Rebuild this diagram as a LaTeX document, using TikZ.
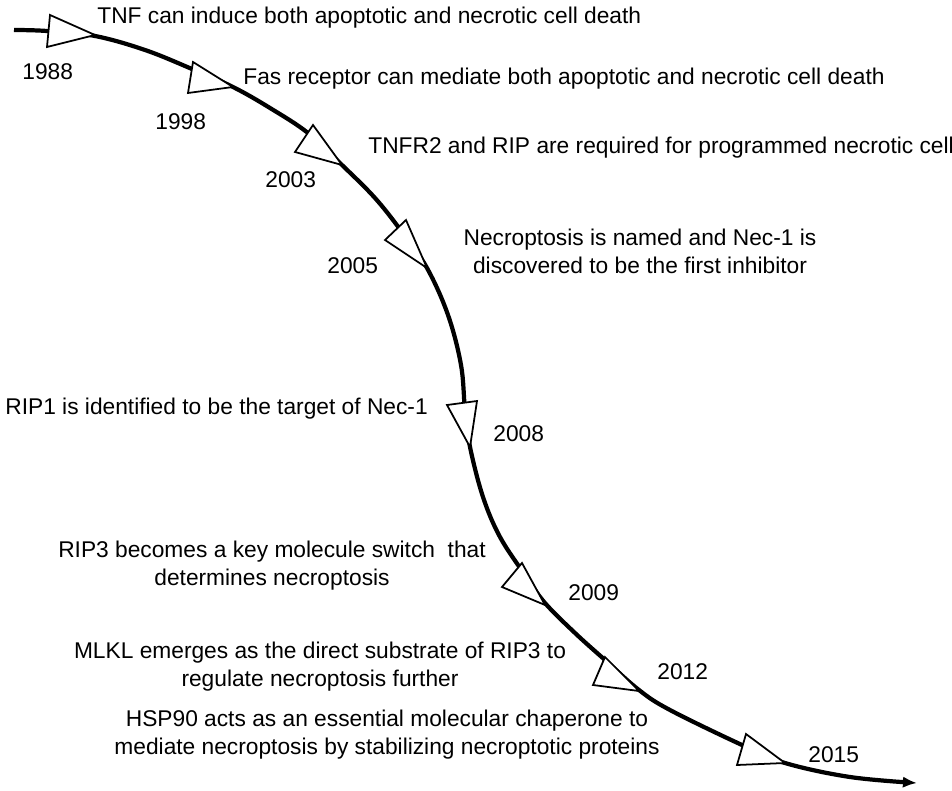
\documentclass[tikz,border=0pt]{standalone}
\usepackage{fontspec}
\setmainfont{Liberation Sans}
\usetikzlibrary{arrows.meta}
\begin{document}
\begin{tikzpicture}
[x=0.02cm,y=-0.02cm,
 timeline/.style={line width=2.4pt},
 marker/.style={line width=1pt,fill=white,line join=miter},
 event/.style={font=\fontsize{12.95}{16}\selectfont,inner sep=0pt},
 year/.style={event,anchor=west}]
\useasboundingbox (0,0) rectangle (952,790);
%% the time line
\draw[timeline,-{Latex[length=8pt,width=6.5pt]}] plot[smooth,tension=0.6] coordinates {
  (14,30) (47,31) (95,36) (145,50) (192,69) (233,87) (270,108) (308,133)
  (342,165) (375,198) (402,232) (427,268) (448,315) (461,365) (465,410)
  (470,447) (483,497) (500,537) (525,575) (545,603) (575,633) (605,660)
  (639,690) (670,710) (742,745) (785,763) (850,777) (917,783)};
%% the open triangles on it
\foreach \ax/\ay/\bx/\by/\tx/\ty in {50/15/47/47/95/35, 193/62/188/93/233/87,
  313/125/295/152/342/165, 406/220/385/240/427/268, 447/405/477/401/470/447,
  522/563/502/587/545/605, 605/657/593/685/639/691, 746/734/737/765/785/763}
{
  \draw[marker] (\ax,\ay) -- (\bx,\by) -- (\tx,\ty) -- cycle;
}
%% years
\foreach \x/\y/\yr in {22/72/1988, 155/122/1998, 265/180/2003, 327/266/2005,
  493/434/2008, 568/593/2009, 657/672/2012, 808/755/2015}
{
  \node[year] (y\yr) at (\x,\y) {\yr};
}
%% events
\node[event,anchor=west] (tnf) at (97,18) {TNF can induce both apoptotic and necrotic cell death};
\node[event,anchor=west] (fas) at (243,79) {Fas receptor can mediate both apoptotic and necrotic cell death};
\node[event,anchor=west] (tnfr) at (368,148) {TNFR2 and RIP are required for programmed necrotic cell};
\node[event,align=center] (nec) at (640,251) {Necroptosis is named and Nec-1 is\\discovered to be the first inhibitor};
\node[event,anchor=west] (rip1) at (5,409) {RIP1 is identified to be the target of Nec-1};
\node[event,align=center] (rip3) at (272,566) {RIP3 becomes a key molecule switch\ \ that\\determines necroptosis};
\node[event,align=center] (mlkl) at (320,667) {MLKL emerges as the direct substrate of RIP3 to\\regulate necroptosis further};
\node[event,align=center] (hsp) at (387,735) {HSP90 acts as an essential molecular chaperone to\\mediate necroptosis by stabilizing necroptotic proteins};
\end{tikzpicture}
\end{document}
